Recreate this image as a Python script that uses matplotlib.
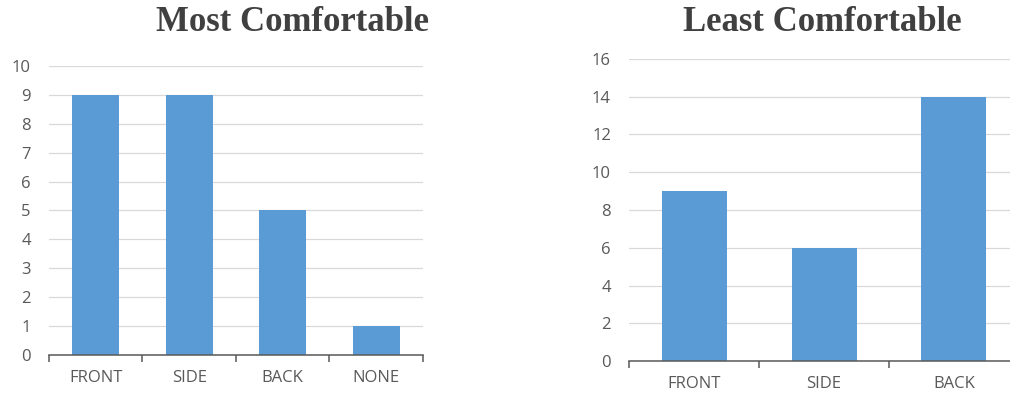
import matplotlib
matplotlib.use("Agg")
import matplotlib.pyplot as plt
import matplotlib.patheffects as pe
import numpy as np

# survey counts
most_labels = ["FRONT", "SIDE", "BACK", "NONE"]
most_counts = [9, 9, 5, 1]
least_labels = ["FRONT", "SIDE", "BACK"]
least_counts = [9, 6, 14]

BAR = "#5B9BD5"
GRID = "#D9D9D9"
TXT = "#595959"


def bar_panel(ax, labels, counts, ymax, ystep):
    x = np.arange(len(labels))
    bars = ax.bar(x, counts, width=0.5, color=BAR, zorder=3)
    for b in bars:
        b.set_path_effects([pe.SimplePatchShadow(offset=(0, 0), shadow_rgbFace="#000000",
                                                 alpha=0.08), pe.Normal()])
    ax.set_xlim(-0.5, len(labels) - 0.5)
    ax.set_ylim(0, ymax)
    ax.set_yticks(np.arange(0, ymax + 1, ystep))
    ax.yaxis.grid(True, color=GRID, lw=0.9, zorder=0)
    ax.set_axisbelow(True)
    for s in ("left", "right", "top"):
        ax.spines[s].set_visible(False)
    ax.spines["bottom"].set_color("#595959")
    ax.spines["bottom"].set_linewidth(1.1)
    ax.spines["bottom"].set_zorder(4)
    ax.set_xticks(x)
    ax.set_xticklabels(labels)
    ax.set_xticks(np.arange(-0.5, len(labels)), minor=True)
    ax.tick_params(axis="x", which="major", length=0, pad=11, labelsize=12, labelcolor=TXT)
    ax.tick_params(axis="x", which="minor", length=5, width=1.1, color="#595959", direction="out")
    ax.tick_params(axis="y", length=0, pad=13, labelsize=12, labelcolor=TXT)
    for t in ax.get_xticklabels() + ax.get_yticklabels():
        t.set_family("Open Sans")


fig = plt.figure(figsize=(10.10, 3.93), dpi=100)

ax1 = fig.add_axes([0.0485, 0.0967, 0.3703, 0.7354])
bar_panel(ax1, most_labels, most_counts, 10, 1)

ax2 = fig.add_axes([0.6228, 0.0814, 0.3861, 0.7685])
bar_panel(ax2, least_labels, least_counts, 16, 2)

fig.text(0.290, 0.920, "Most Comfortable", ha="center", va="baseline",
         family="Liberation Serif", weight="bold", fontsize=25, color="#404040")
fig.text(0.814, 0.920, "Least Comfortable", ha="center", va="baseline",
         family="Liberation Serif", weight="bold", fontsize=25, color="#404040")

fig.savefig("out.png", dpi=100)
